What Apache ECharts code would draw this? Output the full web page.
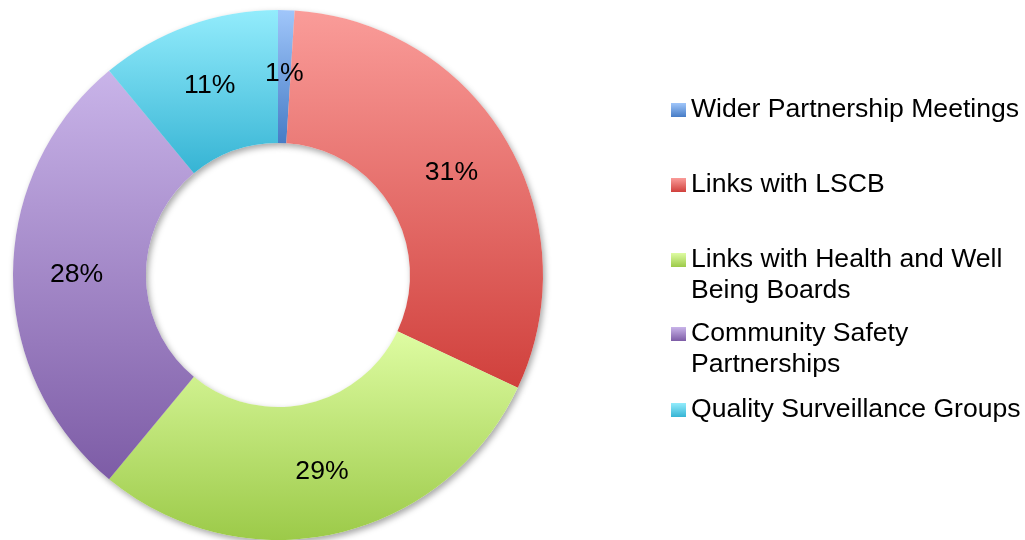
<!DOCTYPE html>
<html>
<head>
<meta charset="utf-8">
<script src="https://cdn.jsdelivr.net/npm/echarts@6/dist/echarts.min.js"></script>
<style>
  html, body { margin: 0; padding: 0; background: #ffffff; }
  #chart { width: 1025px; height: 540px; }
</style>
</head>
<body>
<div id="chart"></div>
<script>
// Share of partnership activity by forum (percent)
const categories = [
  'Wider Partnership Meetings',
  'Links with LSCB',
  'Links with Health and Well Being Boards',
  'Community Safety Partnerships',
  'Quality Surveillance Groups'
];
const legendLabels = [
  'Wider Partnership Meetings',
  'Links with LSCB',
  'Links with Health and Well\nBeing Boards',
  'Community Safety\nPartnerships',
  'Quality Surveillance Groups'
];
const shares = [1, 31, 29, 28, 11];

// Vertical gradient per slice: light at the top, deeper at the bottom
const topColors    = ['#a0c6fa', '#fa9c99', '#defca2', '#c9b4e9', '#93ecfc'];
const bottomColors = ['#467cc6', '#d0403c', '#9cca49', '#7d5ca6', '#36b4d4'];

const FONT = 'Arial, "Liberation Sans", sans-serif';
const FONT_SIZE = 26.6;
const LINE_H = 31;
const legendCenters = [110, 185, 260, 334, 410];

function grad(i) {
  return new echarts.graphic.LinearGradient(0, 0, 0, 1, [
    { offset: 0, color: topColors[i] },
    { offset: 1, color: bottomColors[i] }
  ]);
}

const chart = echarts.init(document.getElementById('chart'), null, { renderer: 'canvas' });

const legends = categories.map((name, i) => {
  const twoLines = legendLabels[i].indexOf('\n') >= 0;
  // a blank leading line keeps the marker level with the first text line
  const text = twoLines ? '\n' + legendLabels[i] : legendLabels[i];
  const offset = twoLines ? (3 * LINE_H) / 2 : LINE_H / 2;
  return {
    data: [name],
    orient: 'vertical',
    left: 671,
    top: legendCenters[i] - offset,
    padding: 0,
    itemWidth: 15,
    itemHeight: 14,
    icon: 'rect',
    selectedMode: false,
    formatter: () => text,
    textStyle: {
      fontFamily: FONT,
      fontSize: FONT_SIZE,
      color: '#000000',
      lineHeight: LINE_H
    }
  };
});

chart.setOption({
  animation: false,
  backgroundColor: '#ffffff',
  legend: legends,
  series: [
    {
      name: 'Forums',
      type: 'pie',
      z: 3,
      center: [278, 275],
      radius: [132, 265],
      startAngle: 90,
      clockwise: true,
      avoidLabelOverlap: false,
      label: {
        show: true,
        position: 'inside',
        formatter: '{c}%',
        fontFamily: FONT,
        fontSize: FONT_SIZE,
        color: '#000000'
      },
      labelLine: { show: false },
      emphasis: { disabled: true },
      itemStyle: { borderWidth: 0 },
      data: categories.map((name, i) => ({
        name: name,
        value: shares[i],
        itemStyle: { color: grad(i) }
      }))
    },
    {
      // soft drop shadow under the ring
      type: 'pie',
      z: 1,
      silent: true,
      center: [278, 275],
      radius: [132, 265],
      startAngle: 90,
      clockwise: true,
      label: { show: false },
      labelLine: { show: false },
      emphasis: { disabled: true },
      itemStyle: {
        color: '#ffffff',
        borderWidth: 0,
        shadowColor: 'rgba(0,0,0,0.35)',
        shadowBlur: 6,
        shadowOffsetX: 2,
        shadowOffsetY: 3
      },
      data: shares.map(v => ({ value: v }))
    }
  ]
});
</script>
</body>
</html>
